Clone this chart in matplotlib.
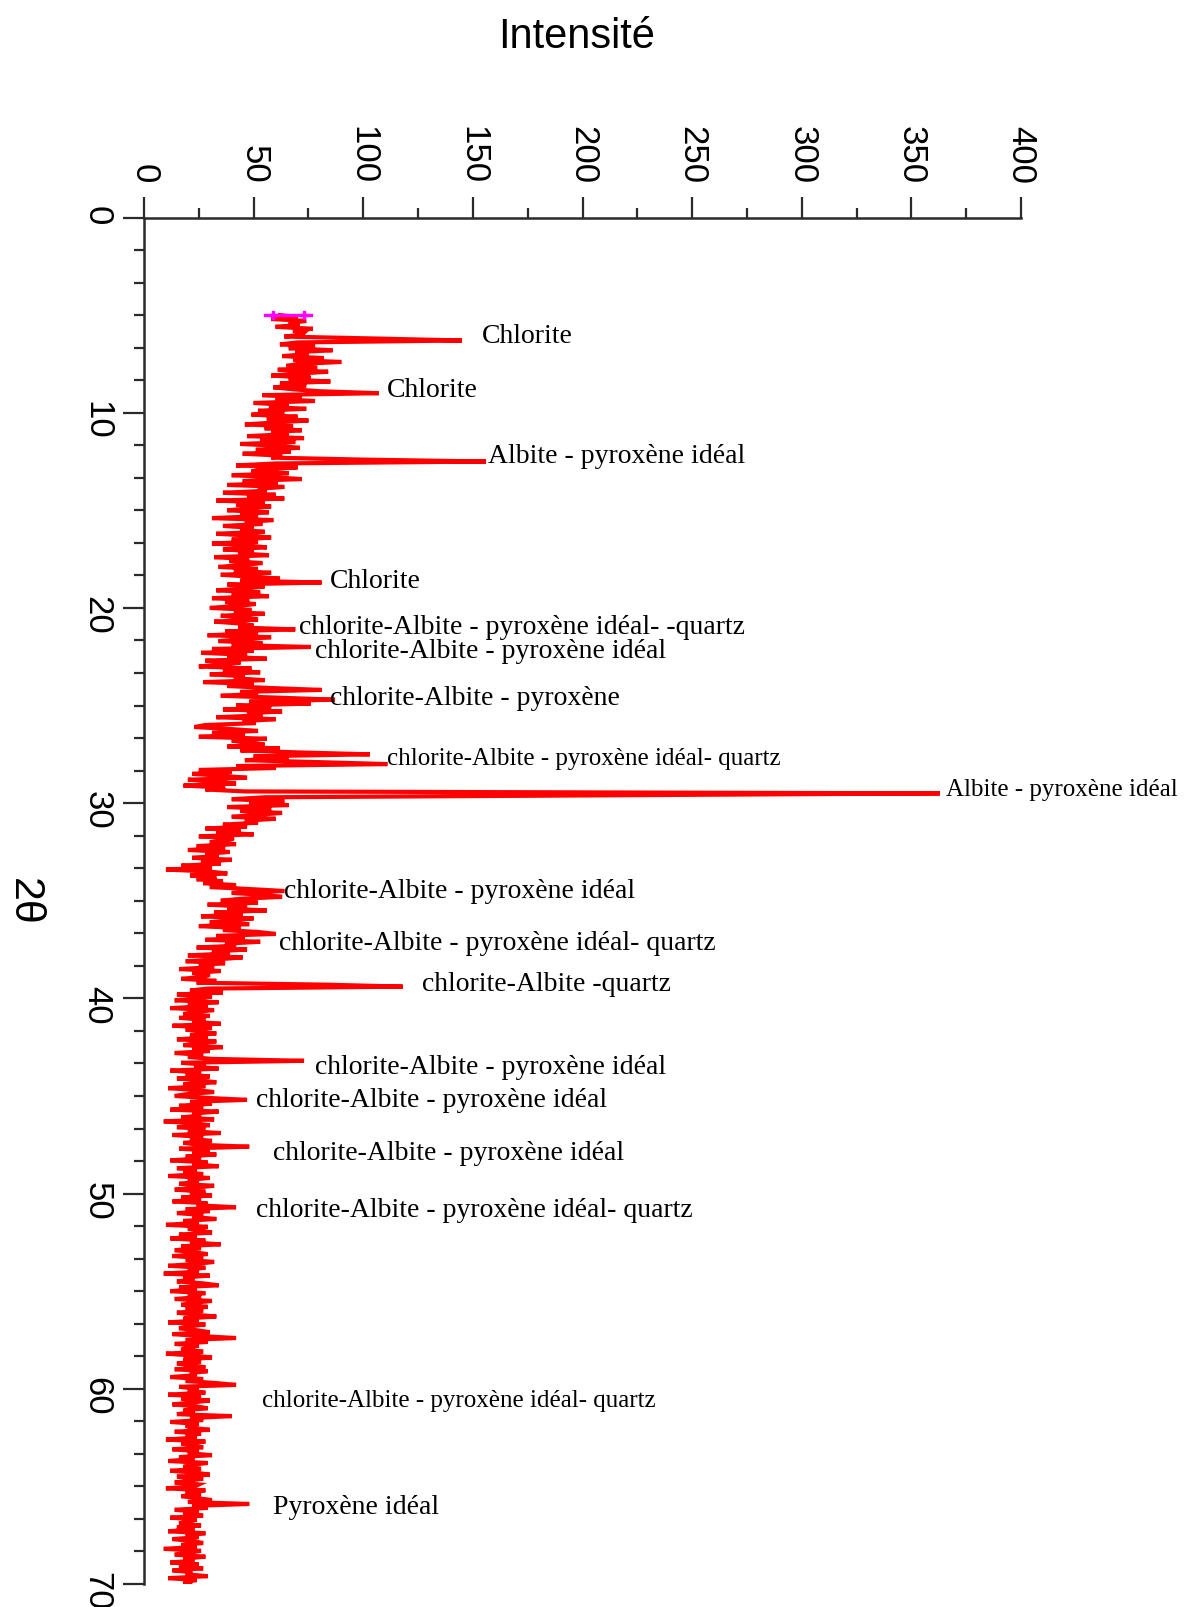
import matplotlib
matplotlib.use("Agg")
import matplotlib.pyplot as plt
from matplotlib.ticker import MultipleLocator
import numpy as np

plt.rcParams["path.simplify"] = False

# 2-theta scan (degrees), 0.1 deg step from 5.0 to 70.0
theta_start = 5.0
theta_step = 0.1

# measured intensity, one row per degree (x.0 ... x.9)
intensity = [
    62, 70, 58, 74, 66, 71, 60, 77, 68, 73,      # 5
    72, 64, 106, 145, 70, 62, 78, 66, 86, 69,    # 6
    75, 63, 82, 68, 90, 71, 65, 79, 61, 84,      # 7
    70, 58, 76, 66, 85, 62, 74, 59, 68, 80,      # 8
    107, 54, 72, 60, 78, 50, 66, 57, 74, 52,     # 9
    64, 49, 70, 56, 75, 60, 46, 68, 55, 72,      # 10
    58, 66, 47, 73, 53, 69, 44, 62, 71, 51,      # 11
    67, 45, 63, 58, 99, 156, 60, 42, 70, 54,     # 12
    49, 66, 40, 58, 72, 45, 61, 38, 64, 52,      # 13
    56, 36, 60, 47, 64, 33, 55, 42, 58, 48,      # 14
    38, 57, 44, 52, 31, 59, 46, 54, 36, 50,      # 15
    44, 55, 33, 49, 58, 40, 52, 31, 47, 56,      # 16
    36, 50, 43, 57, 32, 48, 39, 54, 45, 34,      # 17
    52, 41, 58, 35, 49, 62, 44, 81, 38, 55,      # 18
    46, 33, 53, 40, 57, 31, 48, 37, 51, 42,      # 19
    30, 49, 41, 55, 35, 46, 52, 32, 44, 50,      # 20
    43, 69, 37, 52, 29, 58, 45, 34, 54, 40,      # 21
    76, 31, 50, 26, 47, 38, 56, 28, 44, 35,      # 22
    25, 49, 36, 53, 30, 46, 41, 55, 27, 50,      # 23
    38, 57, 81, 44, 52, 35, 62, 87, 48, 76,      # 24
    42, 58, 36, 63, 47, 54, 33, 60, 45, 51,      # 25
    28, 23, 39, 52, 31, 46, 25, 56, 40, 48,      # 26
    55, 38, 62, 44, 70, 103, 50, 66, 46, 80,     # 27
    111, 42, 60, 25, 40, 22, 36, 47, 20, 33,     # 28
    42, 18, 37, 28, 46, 363, 210, 55, 40, 64,    # 29
    48, 66, 38, 58, 44, 63, 51, 40, 60, 46,      # 30
    52, 36, 47, 28, 44, 33, 50, 25, 41, 38,      # 31
    30, 42, 24, 37, 20, 39, 28, 34, 22, 40,      # 32
    26, 35, 17, 31, 10, 29, 38, 21, 33, 24,      # 33
    36, 27, 42, 30, 48, 64, 40, 55, 63, 44,      # 34
    35, 52, 29, 47, 38, 56, 32, 45, 26, 50,      # 35
    41, 30, 48, 25, 44, 36, 52, 60, 33, 46,      # 36
    28, 53, 37, 42, 24, 47, 31, 39, 20, 45,      # 37
    34, 19, 37, 25, 32, 16, 35, 22, 30, 27,      # 38
    17, 33, 24, 84, 118, 29, 21, 36, 15, 31,     # 39
    25, 14, 34, 20, 29, 12, 32, 23, 18, 30,      # 40
    16, 28, 22, 35, 13, 31, 19, 26, 33, 21,      # 41
    29, 15, 33, 24, 18, 36, 22, 30, 14, 27,      # 42
    20, 31, 73, 17, 28, 23, 34, 12, 26, 19,      # 43
    30, 15, 25, 33, 18, 28, 11, 24, 32, 20,      # 44
    14, 29, 47, 21, 31, 16, 27, 12, 34, 22,      # 45
    26, 17, 32, 9, 23, 30, 15, 28, 20, 35,       # 46
    13, 27, 21, 31, 18, 25, 48, 16, 30, 22,      # 47
    33, 19, 26, 12, 29, 22, 34, 15, 24, 18,      # 48
    27, 11, 30, 20, 25, 16, 32, 23, 14, 28,      # 49
    21, 31, 17, 26, 13, 29, 24, 42, 19, 30,      # 50
    15, 27, 22, 33, 18, 25, 10, 29, 20, 26,      # 51
    31, 16, 24, 12, 28, 21, 35, 17, 26, 14,      # 52
    22, 29, 13, 27, 19, 32, 24, 11, 28, 20,      # 53
    25, 9, 30, 18, 23, 15, 27, 34, 16, 24,       # 54
    12, 28, 20, 26, 14, 31, 22, 17, 29, 19,      # 55
    27, 15, 23, 33, 18, 25, 11, 28, 21, 16,      # 56
    24, 30, 13, 26, 42, 19, 29, 14, 25, 20,      # 57
    17, 27, 10, 23, 31, 18, 26, 15, 22, 28,      # 58
    14, 29, 21, 24, 12, 27, 19, 32, 42, 16,      # 59
    25, 20, 28, 11, 26, 17, 30, 22, 13, 24,      # 60
    29, 18, 23, 15, 40, 21, 27, 12, 25, 19,      # 61
    22, 30, 14, 26, 19, 24, 10, 28, 17, 23,      # 62
    27, 13, 25, 20, 31, 16, 23, 11, 29, 21,      # 63
    18, 26, 12, 24, 30, 15, 27, 21, 14, 25,      # 64
    23, 10, 28, 19, 26, 17, 24, 31, 20, 48,      # 65
    22, 29, 14, 25, 18, 27, 12, 24, 20, 16,      # 66
    26, 15, 23, 11, 28, 19, 25, 13, 22, 27,      # 67
    17, 24, 9, 26, 20, 14, 28, 18, 23, 12,       # 68
    25, 16, 27, 13, 22, 19, 29, 11, 24, 18,      # 69
    21,                                          # 70
]

# start-of-scan marker
marker_theta = 5.0
marker_span = [55, 76]
marker_points = [59, 73]

# phase identifications: text, 2-theta, intensity, font size
label_texts = [
    "Chlorite",
    "Chlorite",
    "Albite - pyroxène idéal",
    "Chlorite",
    "chlorite-Albite - pyroxène idéal- -quartz",
    "chlorite-Albite - pyroxène idéal",
    "chlorite-Albite - pyroxène",
    "chlorite-Albite - pyroxène idéal- quartz",
    "Albite - pyroxène idéal",
    "chlorite-Albite - pyroxène idéal",
    "chlorite-Albite - pyroxène idéal- quartz",
    "chlorite-Albite -quartz",
    "chlorite-Albite - pyroxène idéal",
    "chlorite-Albite - pyroxène idéal",
    "chlorite-Albite - pyroxène idéal",
    "chlorite-Albite - pyroxène idéal- quartz",
    "chlorite-Albite - pyroxène idéal- quartz",
    "Pyroxène idéal",
]
label_theta = [6.05, 8.83, 12.19, 18.6, 20.97, 22.18, 24.6, 27.7, 29.3,
               34.5, 37.15, 39.26, 43.5, 45.2, 47.9, 50.8, 60.6, 66.05]
label_intensity = [154, 111, 157, 85, 70.5, 78, 85, 111, 366,
                   64, 61.6, 127, 78, 51.3, 58.8, 51.3, 54, 58.8]
label_sizes = [20, 20, 20, 20, 20, 20, 20, 18, 18,
               20, 20, 20, 20, 20, 20, 20, 18, 20]

x_ticks = [0, 50, 100, 150, 200, 250, 300, 350, 400]
y_ticks = [0, 10, 20, 30, 40, 50, 60, 70]

theta = theta_start + theta_step * np.arange(len(intensity))

W, H = 1194, 1608
fig = plt.figure(figsize=(W / 100, H / 100), dpi=100)
ax = fig.add_axes([144 / W, 1 - 1585 / H, (1021 - 144) / W, (1585 - 218.5) / H])

ax.plot(intensity, theta, color="#ff0000", lw=3.0, solid_joinstyle="miter")
ax.plot(marker_span, [marker_theta, marker_theta], color="#ff00ff", lw=2.4)
ax.plot(marker_points, [marker_theta] * len(marker_points), ls="none",
        marker="P", ms=6, color="#ff00ff")

ax.set_xlim(0, 400)
ax.set_ylim(70, 0)

for side in ("right", "bottom"):
    ax.spines[side].set_visible(False)
for side in ("left", "top"):
    ax.spines[side].set_color("#2a2a2a")
    ax.spines[side].set_linewidth(1.8)

ax.xaxis.tick_top()
ax.set_xticks(x_ticks)
ax.set_yticks(y_ticks)
ax.xaxis.set_minor_locator(MultipleLocator(25))
ax.yaxis.set_minor_locator(MultipleLocator(10 / 6))

tick_font = "Liberation Sans"
ax.tick_params(axis="both", which="major", length=15, width=1.6, color="#2a2a2a")
ax.tick_params(axis="both", which="minor", length=7.5, width=1.6, color="#2a2a2a")
ax.tick_params(axis="x", which="major", pad=10, labelsize=25, labelrotation=-90)
ax.tick_params(axis="y", which="major", pad=7, labelsize=25, labelrotation=-90)
for lab in ax.get_xticklabels() + ax.get_yticklabels():
    lab.set_family(tick_font)

for txt, th, val, fs in zip(label_texts, label_theta, label_intensity, label_sizes):
    ax.text(val, th, txt, ha="left", va="center", fontsize=fs,
            family="Liberation Serif", color="black", clip_on=False)

fig.text(577 / W, 1 - 48.3 / H, "Intensité", ha="center", va="baseline",
         fontsize=30, family="Liberation Sans")
fig.text(24 / W, 1 - 902 / H, "2θ", ha="center", va="center", rotation=270,
         fontsize=31, family="Liberation Sans")

fig.savefig("out.png", dpi=100)
